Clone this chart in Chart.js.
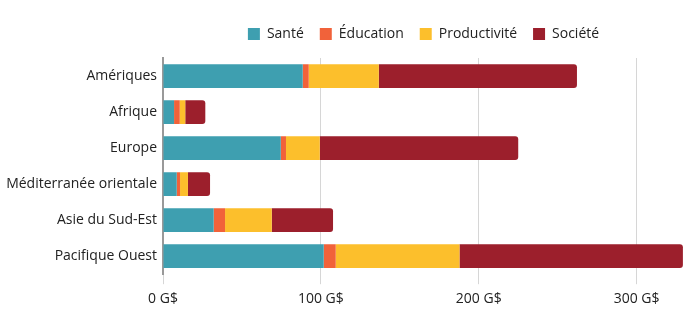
<!DOCTYPE html>
<html>
<head>
<meta charset="utf-8">
<script src="https://cdn.jsdelivr.net/npm/chart.js@4.4.0/dist/chart.umd.min.js"></script>
<style>
  html, body { margin: 0; padding: 0; background: #fff; }
  #wrap { width: 700px; height: 335px; }
</style>
</head>
<body>
<div id="wrap"><canvas id="graph"></canvas></div>
<script>
// régions OMS
const regions = ['Amériques', 'Afrique', 'Europe', 'Méditerranée orientale', 'Asie du Sud-Est', 'Pacifique Ouest']

// coûts en milliards de dollars, par catégorie
const sante = [88.5, 7.0, 74.6, 8.7, 32.1, 101.8]
const education = [3.8, 3.6, 3.3, 2.1, 7.2, 7.6]
const productivite = [44.4, 3.5, 21.4, 5.0, 29.6, 78.4]
const societe = [125.5, 12.7, 125.7, 14.0, 38.8, 141.5]

const xTicks = [0, 100, 200, 300]

// un peu d'espace sous la légende
const legendMargin = {
    id: 'legendMargin',
    beforeInit(chart) {
        const fit = chart.legend.fit
        chart.legend.fit = function () {
            fit.bind(chart.legend)()
            this.height += 7
        }
    }
}

function stackedBar(element) {
    const ctx = document.getElementById(element).getContext('2d')

    Chart.defaults.font.family = "'Open Sans', sans-serif"
    Chart.defaults.font.size = 14
    Chart.defaults.color = '#333'

    const serie = (label, data, color, last) => ({
        label: label,
        data: data,
        backgroundColor: color,
        borderWidth: 0,
        borderSkipped: false,
        borderRadius: last ? { topRight: 3, bottomRight: 3 } : 0,
        barPercentage: 0.66,
        categoryPercentage: 1
    })

    new Chart(ctx, {
        type: 'bar',
        data: {
            labels: regions,
            datasets: [
                serie('Santé', sante, '#3e9fb0', false),
                serie('Éducation', education, '#f1623a', false),
                serie('Productivité', productivite, '#fcbf2c', false),
                serie('Société', societe, '#9c1f2c', true)
            ]
        },
        plugins: [legendMargin],
        options: {
            indexAxis: 'y',
            responsive: true,
            maintainAspectRatio: false,
            animation: false,
            layout: { padding: { left: 0, right: 16, top: 11, bottom: 22 } },
            plugins: {
                legend: {
                    position: 'top',
                    fullSize: false,
                    labels: {
                        boxWidth: 12,
                        boxHeight: 12,
                        padding: 16,
                        font: { size: 14 },
                        color: '#222'
                    }
                },
                tooltip: { enabled: false }
            },
            scales: {
                x: {
                    stacked: true,
                    min: 0,
                    max: 330,
                    afterBuildTicks: scale => {
                        scale.ticks = xTicks.map(v => ({ value: v }))
                    },
                    grid: {
                        color: '#d6d6d6',
                        tickLength: 10,
                        drawTicks: true
                    },
                    border: { display: false },
                    ticks: {
                        font: { size: 14 },
                        color: '#222',
                        padding: 6,
                        callback: v => v + ' G$'
                    }
                },
                y: {
                    stacked: true,
                    grid: { display: false, drawTicks: false },
                    border: { color: '#999', width: 2 },
                    ticks: { color: '#222', padding: 6 },
                    afterFit: scale => { scale.width = 163 }
                }
            }
        }
    })
}

stackedBar('graph')
</script>
</body>
</html>
